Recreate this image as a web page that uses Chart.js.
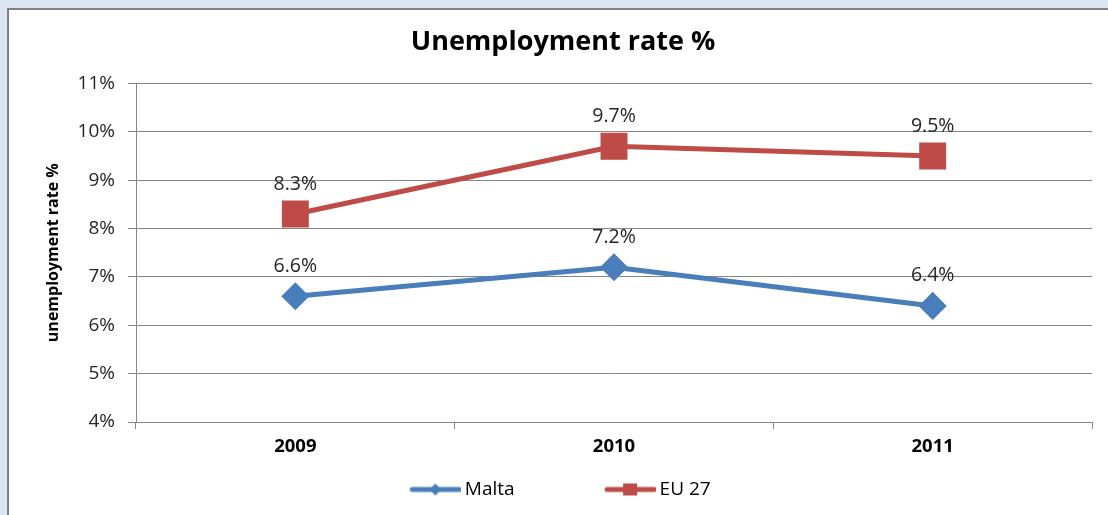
<!DOCTYPE html>
<html>
<head>
<meta charset="utf-8">
<script src="https://cdn.jsdelivr.net/npm/chart.js@4"></script>
<style>
  html, body { margin: 0; padding: 0; }
  body { width: 1108px; height: 515px; background: #dbe5f1; position: relative; overflow: hidden; }
  .frame { position: absolute; left: 7px; top: 8px; width: 1120px; height: 520px; background: #fff; border: 2px solid #808080; }
  #chart { position: absolute; left: 0; top: 0; }
</style>
</head>
<body>
<div class="frame"></div>
<canvas id="chart" width="1108" height="515"></canvas>
<script>
const years = ['2009', '2010', '2011'];
const maltaRates = [6.6, 7.2, 6.4];
const eu27Rates = [8.3, 9.7, 9.5];
const yTicks = [4, 5, 6, 7, 8, 9, 10, 11];

const FONT = "'Open Sans', 'Liberation Sans', sans-serif";
const BLUE = '#4a7ebb';
const RED = '#be4b48';

// small line+marker images for the legend
function legendIcon(color, marker) {
  const c = document.createElement('canvas');
  c.width = 52; c.height = 20;
  const ctx = c.getContext('2d');
  ctx.strokeStyle = color;
  ctx.fillStyle = color;
  ctx.lineWidth = 5;
  ctx.lineCap = 'round';
  ctx.beginPath();
  ctx.moveTo(3, 10);
  ctx.lineTo(50, 10);
  ctx.stroke();
  ctx.beginPath();
  if (marker === 'diamond') {
    ctx.moveTo(26, 4); ctx.lineTo(32, 10); ctx.lineTo(26, 16); ctx.lineTo(20, 10);
  } else {
    ctx.rect(19, 4, 14, 12);
  }
  ctx.fill();
  return c;
}

const valueLabels = {
  id: 'valueLabels',
  afterDatasetsDraw(chart) {
    const ctx = chart.ctx;
    ctx.save();
    ctx.font = '19.5px ' + FONT;
    ctx.fillStyle = '#262626';
    ctx.textAlign = 'center';
    ctx.textBaseline = 'middle';
    chart.data.datasets.forEach((ds, i) => {
      chart.getDatasetMeta(i).data.forEach((pt, j) => {
        ctx.fillText(ds.data[j].toFixed(1) + '%', pt.x, pt.y - 30);
      });
    });
    ctx.restore();
  }
};

new Chart(document.getElementById('chart'), {
  type: 'line',
  data: {
    labels: years,
    datasets: [
      {
        label: 'Malta',
        data: maltaRates,
        borderColor: BLUE,
        backgroundColor: BLUE,
        borderWidth: 5,
        pointStyle: 'rectRot',
        pointRadius: 10.5,
        pointHoverRadius: 10.5,
        tension: 0
      },
      {
        label: 'EU 27',
        data: eu27Rates,
        borderColor: RED,
        backgroundColor: RED,
        borderWidth: 5,
        pointStyle: 'rect',
        pointRadius: 15.5,
        pointHoverRadius: 15.5,
        tension: 0
      }
    ]
  },
  options: {
    responsive: false,
    animation: false,
    events: [],
    layout: { autoPadding: false, padding: { left: 34, right: 16, top: 0, bottom: 6 } },
    plugins: {
      title: {
        display: true,
        text: 'Unemployment rate %',
        color: '#000',
        font: { family: FONT, size: 27, weight: 'bold' },
        padding: { top: 26, bottom: 25 }
      },
      legend: {
        position: 'bottom',
        labels: {
          color: '#000',
          font: { family: FONT, size: 19 },
          usePointStyle: true,
          pointStyleWidth: 40,
          padding: 10,
          generateLabels: (chart) => [
            { text: 'Malta\u2003\u2003\u2003\u2003\u2002', pointStyle: legendIcon(BLUE, 'diamond'), fillStyle: BLUE, strokeStyle: BLUE, lineWidth: 0, datasetIndex: 0 },
            { text: 'EU 27', pointStyle: legendIcon(RED, 'square'), fillStyle: RED, strokeStyle: RED, lineWidth: 0, datasetIndex: 1 }
          ]
        }
      },
      tooltip: { enabled: false }
    },
    scales: {
      x: {
        offset: true,
        afterFit: (scale) => { scale.height = 48; },
        grid: { offset: true, drawOnChartArea: false, drawTicks: true, tickLength: 7, color: '#868686' },
        border: { color: '#868686' },
        ticks: { color: '#000', padding: 7, font: { family: FONT, size: 18.5, weight: 'bold' } }
      },
      y: {
        min: yTicks[0],
        max: yTicks[yTicks.length - 1],
        afterFit: (scale) => { scale.width = 102; },
        afterBuildTicks: (scale) => { scale.ticks = yTicks.map(v => ({ value: v })); },
        grid: { color: '#868686', tickLength: 8 },
        border: { color: '#868686' },
        ticks: {
          color: '#262626',
          padding: 13,
          font: { family: FONT, size: 19 },
          callback: (v) => v + '%'
        },
        title: {
          display: true,
          text: 'unemployment rate %',
          color: '#000',
          font: { family: FONT, size: 16, weight: 'bold' },
          padding: { top: 10, bottom: 0 }
        }
      }
    }
  },
  plugins: [valueLabels]
});
</script>
</body>
</html>
